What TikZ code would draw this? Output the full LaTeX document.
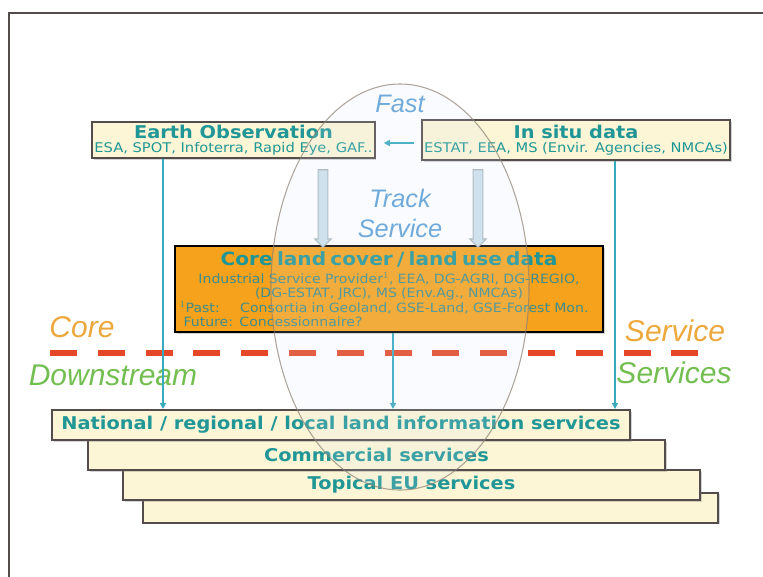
\documentclass[tikz,border=0pt]{standalone}
\usepackage{fontspec}
\setmainfont{DejaVu Sans}[FakeStretch=1.1]
\newfontfamily\kit{Liberation Sans}
\usetikzlibrary{shadows,shapes.arrows,arrows.meta}
\definecolor{kteal}{RGB}{32,150,150}
\definecolor{kcoretx}{RGB}{62,140,140}
\definecolor{kcream}{RGB}{252,246,214}
\definecolor{kframe}{RGB}{84,76,74}
\definecolor{korange}{RGB}{246,162,28}
\definecolor{kblue}{RGB}{95,160,215}
\definecolor{kcorelb}{RGB}{236,168,60}
\definecolor{kgreen}{RGB}{115,190,80}
\definecolor{kred}{RGB}{228,72,40}
\definecolor{kline}{RGB}{55,170,190}
\definecolor{kell}{RGB}{215,230,245}
\definecolor{karrow}{RGB}{205,225,235}
\tikzset{
 kbox/.style={draw=kframe,line width=1.5pt,fill=kcream,inner sep=0pt,
   drop shadow={shadow xshift=1.2pt,shadow yshift=-1.2pt,opacity=0.35}},
 kstack/.style={text=kteal,font=\fontsize{13.2}{15}\selectfont\bfseries},
 kconn/.style={draw=kline,line width=1.5pt,-{Triangle[length=4.5pt,width=4.5pt]}},
 kbig/.style={single arrow,draw=karrow!55!gray,fill=karrow,line width=0.9pt,rotate=-90,
   minimum height=58pt,minimum width=12pt,single arrow head extend=2.5pt,inner sep=3.2pt},
 kfast/.style={text=kblue,font=\kit\itshape\fontsize{19}{21}\selectfont},
 klayer/.style={font=\kit\itshape\fontsize{22.5}{24}\selectfont},
}
\begin{document}
\begin{tikzpicture}[x=0.75pt,y=-0.75pt]
\useasboundingbox (0,0) rectangle (763,576);
\draw[kframe,line width=1.5pt](9,580)--(9,13)--(767,13);
% stacked downstream services
\foreach \kn/\kx/\ky/\kw in {d/430.5/507.5/575,c/411.5/485/577,b/376.5/455/577,a/341/425/578}{
\node[kbox,minimum width=\kw*0.75pt,minimum height=22.5pt](s\kn) at (\kx,\ky){};}
\node[kstack](ta) at (sa){National / regional / local land information services};
\node[kstack](tb) at (sb){Commercial services};
\node[kstack](tc) at (sc){Topical EU services};
% sources
\node[kbox,minimum width=212pt,minimum height=27pt,align=center,text=kteal](eo) at (233.5,140)
 {{\fontsize{13.2}{14}\selectfont\bfseries Earth Observation}\\[-1.5pt]{\fontsize{10}{11}\selectfont ESA, SPOT, Infoterra, Rapid Eye, GAF..}};
\node[kbox,minimum width=231pt,minimum height=30pt,align=center,text=kteal](insitu) at (576,140)
 {{\fontsize{13.2}{14}\selectfont\bfseries In situ data}\\[-1.5pt]{\fontsize{10}{11}\selectfont ESTAT, EEA, MS (Envir. Agencies, NMCAs)}};
% core
\node[draw=black,line width=2.2pt,fill=korange,text=kcoretx,minimum width=321pt,minimum height=64.5pt,
 text width=314pt,align=center,inner sep=0pt,font=\fontsize{9.6}{10.7}\selectfont,
 drop shadow={shadow xshift=1.2pt,shadow yshift=-1.2pt,opacity=0.35}](core) at (389,289)
 {{\fontsize{13.7}{15}\selectfont\bfseries\color{kteal}Core land cover / land use data}\\[3pt]
  Industrial Service Provider$^1$, EEA, DG-AGRI, DG-REGIO,\\
  (DG-ESTAT, JRC), MS (Env.Ag., NMCAs)\\
  \makebox[\linewidth][l]{$^1$Past:\hspace{1.6em}Consortia in Geoland, GSE-Land, GSE-Forest Mon.}\\
  \makebox[\linewidth][l]{\hspace{0.3em}Future: Concessionnaire?}};
% fast track arrows
\node[kbig](bigl) at (323,206){};
\node[kbig](bigr) at (478,206){};
\draw[kconn,shorten <=5pt,shorten >=6pt](insitu.west|-0,143)--(eo.east|-0,143);
\node[kfast](fast) at (400,104){Fast};
\node[kfast](track) at (400,198){Track};
\node[kfast](service) at (400,228){Service};
% core / downstream split
\draw[kred,line width=4.5pt,dash pattern=on 20.25pt off 15.6pt](50,353)--(698,353);
\node[klayer,text=kcorelb](lcore) at (82,327){Core};
\node[klayer,text=kcorelb](lserv) at (675,331){Service};
\node[klayer,text=kgreen](ldown) at (113,375){Downstream};
\node[klayer,text=kgreen](lservs) at (674,373){Services};
% feeds
\draw[kconn](eo.south-|163,0)--(sa.north-|163,0);
\draw[kconn](insitu.south-|615,0)--(sa.north-|615,0);
\draw[kconn](core.south-|393,0)--(sa.north-|393,0);
% fast track service ellipse
\draw[draw=gray!80!brown,line width=0.8pt,fill=kell,fill opacity=0.15,draw opacity=0.7](400,287) ellipse [x radius=129,y radius=203];
\end{tikzpicture}
\end{document}
